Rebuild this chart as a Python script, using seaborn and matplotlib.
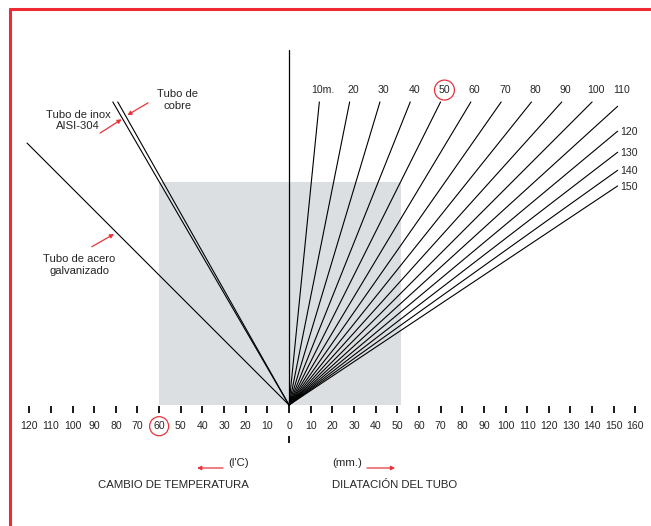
import numpy as np
import pandas as pd
import matplotlib
matplotlib.use('Agg')
import matplotlib.pyplot as plt
import seaborn as sns
from matplotlib.patches import Rectangle, Circle
from matplotlib.lines import Line2D

# longitudes de tubo (m)
lengths = [10, 20, 30, 40, 50, 60, 70, 80, 90, 100, 110, 120, 130, 140, 150]
length_labels = ['10m.', '20', '30', '40', '50', '60', '70', '80', '90', '100',
                 '110', '120', '130', '140', '150']
# coeficiente de dilatacion de cada material (mm / m·°C)
materials = ['Tubo de acero\ngalvanizado', 'Tubo de inox\nAISI-304', 'Tubo de\ncobre']
material_coef = [0.0100, 0.0172, 0.0177]
# escalas
temp_ticks = [120, 110, 100, 90, 80, 70, 60, 50, 40, 30, 20, 10]
dil_ticks = [0, 10, 20, 30, 40, 50, 60, 70, 80, 90, 100, 110, 120, 130, 140, 150, 160]
# ejemplo marcado
example_temp = 60
example_length = 50
example_material = 1

K = 100          # escala del nomograma
y_top = 140      # altura maxima de las rectas
x_right = 151.8  # limite derecho de las rectas de longitud
x_left = -121    # limite izquierdo de las rectas de material

red = '#e8343c'

sns.set_style('white')
plt.rcParams['font.family'] = ['Liberation Sans', 'DejaVu Sans']

fig = plt.figure(figsize=(6.51, 5.26), dpi=100)
ax = fig.add_axes([0, 0, 1, 1])
ax.set_xlim(-133.5, 167.2)
ax.set_ylim(-55.9, 187.1)
ax.axis('off')

# rectas: longitud (derecha) y material (izquierda)
rows = []
length_ends = []
for L in lengths:
    s = K / L
    x, y = y_top / s, y_top
    if x > x_right:
        x, y = x_right, x_right * s
    length_ends.append((x, y))
    rows += [('L%d' % L, 0, 0), ('L%d' % L, x, y)]
mat_ends = []
for name, c in zip(materials, material_coef):
    m = c * K
    x, y = -y_top / m, y_top
    if x < x_left:
        x, y = x_left, -x_left * m
    mat_ends.append((x, y))
    rows += [(name, 0, 0), (name, x, y)]
df = pd.DataFrame(rows, columns=['line', 'x', 'y'])

# zona gris del ejemplo
h = example_temp * material_coef[example_material] * K
w = example_length * h / K
ax.add_patch(Rectangle((-example_temp, 0), example_temp + w, h,
                       facecolor='#dcdfe2', edgecolor='none', zorder=0))

sns.lineplot(data=df, x='x', y='y', units='line', estimator=None, sort=False,
             color='black', lw=0.8, ax=ax, legend=False)
ax.plot([0, 0], [0, 164], color='black', lw=0.9)

# escala inferior
tick_x = [-t for t in temp_ticks] + dil_ticks
ax.vlines(tick_x, -3.7, -0.6, color='#1a1a1a', lw=1.4)
ax.vlines([0], -17.5, -14.3, color='#1a1a1a', lw=1.4)
for t in temp_ticks:
    ax.text(-t, -9.8, str(t), ha='center', va='center', fontsize=7.6)
for d in dil_ticks:
    ax.text(d, -9.8, str(d), ha='center', va='center', fontsize=7.6)

# etiquetas de longitudes
for lab, (x, y), L in zip(length_labels, length_ends, lengths):
    if y > 135:
        ax.text(x + 1.8, y_top + 5.5, lab, ha='center', va='center', fontsize=7.6)
    else:
        ax.text(x + 1.3, y - 0.5, lab, ha='left', va='center', fontsize=7.6)

# circulos del ejemplo
ax.add_patch(Circle((-example_temp, -9.8), 4.4, fill=False, color=red, lw=0.9))
idx = lengths.index(example_length)
ax.add_patch(Circle((length_ends[idx][0] + 1.8, y_top + 5.5), 4.6, fill=False, color=red, lw=0.9))

# etiquetas de materiales con flechas
arrow = dict(arrowstyle='-|>', color=red, lw=0.9, mutation_scale=6, shrinkA=0, shrinkB=0)
ax.text(-97, 64.7, materials[0], ha='center', va='center', fontsize=8.1, linespacing=1.15)
ax.annotate('', xy=(-80.8, 79), xytext=(-91.1, 73.1), arrowprops=arrow)
ax.text(-97.5, 131.6, materials[1], ha='center', va='center', fontsize=8.1, linespacing=1.15)
ax.annotate('', xy=(-77.3, 132), xytext=(-87.3, 125.6), arrowprops=arrow)
ax.text(-51.3, 140.9, materials[2], ha='center', va='center', fontsize=8.1, linespacing=1.15)
ax.annotate('', xy=(-74.7, 133.9), xytext=(-65.1, 139.6), arrowprops=arrow)

# titulos de las escalas
ax.text(-18.5, -26.8, "(l'C)", ha='right', va='center', fontsize=8.2)
ax.text(-18.5, -37, 'CAMBIO DE TEMPERATURA', ha='right', va='center', fontsize=8.2)
ax.annotate('', xy=(-42.5, -29.1), xytext=(-30.5, -29.1), arrowprops=arrow)
ax.text(19.9, -26.8, '(mm.)', ha='left', va='center', fontsize=8.2)
ax.text(19.9, -37, 'DILATACIÓN DEL TUBO', ha='left', va='center', fontsize=8.2)
ax.annotate('', xy=(49, -29.1), xytext=(36, -29.1), arrowprops=arrow)

# marco rojo
fig.add_artist(Line2D([10 / 651, 1], [1 - 9 / 526, 1 - 9 / 526], color='#ee2b35', lw=2.2))
fig.add_artist(Line2D([10 / 651, 10 / 651], [0, 1 - 9 / 526], color='#ee2b35', lw=2.2))

fig.savefig('out.png', dpi=100)
